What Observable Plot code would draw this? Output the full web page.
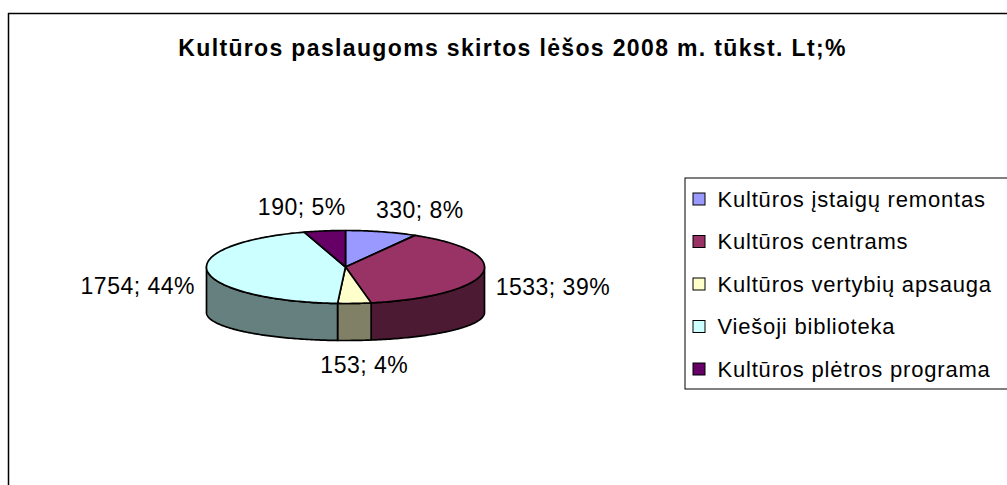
<!DOCTYPE html>
<html><head><meta charset="utf-8">
<script src="https://cdn.jsdelivr.net/npm/d3@7"></script>
<script src="https://cdn.jsdelivr.net/npm/@observablehq/plot@0.6"></script>
<style>html,body{margin:0;padding:0;background:#fff;}</style>
</head><body><div id="chart"></div>
<script>
const title = "Kultūros paslaugoms skirtos lėšos 2008 m. tūkst. Lt;%";
const categories = ["Kultūros įstaigų remontas", "Kultūros centrams", "Kultūros vertybių apsauga", "Viešoji biblioteka", "Kultūros plėtros programa"];
const values = [330, 1533, 153, 1754, 190];
const colors = ["#9999FF", "#993366", "#FFFFCC", "#CCFFFF", "#660066"];

const W = 1007, H = 485;
const FONT = "Liberation Sans, Arial, sans-serif";
// pie geometry
const cx = 345, cyTop = 266.5, rx = 139, ryTop = 36.5, cyBot = 312, ryBot = 28;
const total = d3.sum(values);
let acc = 0;
const slices = values.map((v, i) => {
  const a0 = acc / total * 2 * Math.PI; acc += v;
  const a1 = acc / total * 2 * Math.PI;
  return {i, v, pct: Math.round(v / total * 100), a0, a1, mid: (a0 + a1) / 2};
});
const topPt = a => [cx + rx * Math.sin(a), cyTop - ryTop * Math.cos(a)];
const botPt = a => [cx + rx * Math.sin(a), cyBot - ryBot * Math.cos(a)];
function arc(f, a0, a1) {
  const steps = Math.max(2, Math.ceil(Math.abs(a1 - a0) / (Math.PI / 180)));
  const pts = [];
  for (let k = 0; k <= steps; k++) pts.push(f(a0 + (a1 - a0) * k / steps));
  return pts;
}
const darker = c => { const r = d3.rgb(c); return d3.rgb(r.r * 0.5, r.g * 0.5, r.b * 0.5).formatHex(); };

const polyStyle = {x: d => d[0], y: d => d[1], stroke: "#000", strokeWidth: 1.7, strokeLinejoin: "round", curve: "linear"};
const sideMarks = [];
slices.forEach(s => {
  const a0 = Math.max(s.a0, Math.PI / 2), a1 = Math.min(s.a1, 3 * Math.PI / 2);
  if (a1 <= a0) return;
  const pts = [...arc(topPt, a0, a1), ...arc(botPt, a1, a0)];
  pts.push(pts[0]);
  sideMarks.push(Plot.line(pts, {...polyStyle, fill: darker(colors[s.i])}));
});
const topMarks = slices.map(s => {
  const c = [cx, cyTop];
  const pts = [c, ...arc(topPt, s.a0, s.a1), c];
  return Plot.line(pts, {...polyStyle, fill: colors[s.i]});
});

// data label layout rule
const labels = slices.map(s => {
  const sn = Math.sin(s.mid), cs = Math.cos(s.mid);
  return {
    text: `${s.v}; ${s.pct}%`,
    x: cx + (208 + 85 * cs * cs) * sn,
    y: 285 - 80 * cs * Math.abs(cs)
  };
});

const legendRows = categories.map((name, i) => ({name, color: colors[i], yc: 199 + i * 42.5}));

const chart = Plot.plot({
  width: W, height: H,
  margin: 0,
  x: {domain: [0, W], range: [0, W], axis: null},
  y: {domain: [0, H], range: [0, H], axis: null},
  color: {type: "identity"},
  style: {fontFamily: FONT, background: "#fff"},
  marks: [
    Plot.ruleX([8], {y1: 13, y2: H, stroke: "#000", strokeWidth: 1.5}),
    Plot.ruleY([13], {x1: 8, x2: W, stroke: "#000", strokeWidth: 1.5}),
    Plot.text([title], {x: 512, y: 48, text: d => d, fontSize: 23, fontWeight: "bold", fill: "#000", fontFamily: FONT}),
    ...sideMarks,
    ...topMarks,
    Plot.text(labels, {x: "x", y: "y", text: "text", fontSize: 23, fill: "#000", fontFamily: FONT}),
    Plot.rect([0], {x1: 685, x2: W + 10, y1: 178, y2: 389, fill: "#fff", stroke: "#000", strokeWidth: 1}),
    Plot.rect(legendRows, {x1: 693, x2: 705, y1: d => d.yc - 6, y2: d => d.yc + 6, fill: "color", stroke: "#000", strokeWidth: 1}),
    Plot.text(legendRows, {x: 717, y: "yc", text: "name", textAnchor: "start", fontSize: 22, fill: "#000", fontFamily: FONT})
  ]
});
// letter spacing to match the original rendering widths
const textGroups = chart.querySelectorAll("g[aria-label='text']");
const spacing = ["1.35px", "0.5px", "0.8px"];
textGroups.forEach((g, k) => { if (spacing[k]) g.style.letterSpacing = spacing[k]; });
document.getElementById("chart").appendChild(chart);
</script>
</body></html>
